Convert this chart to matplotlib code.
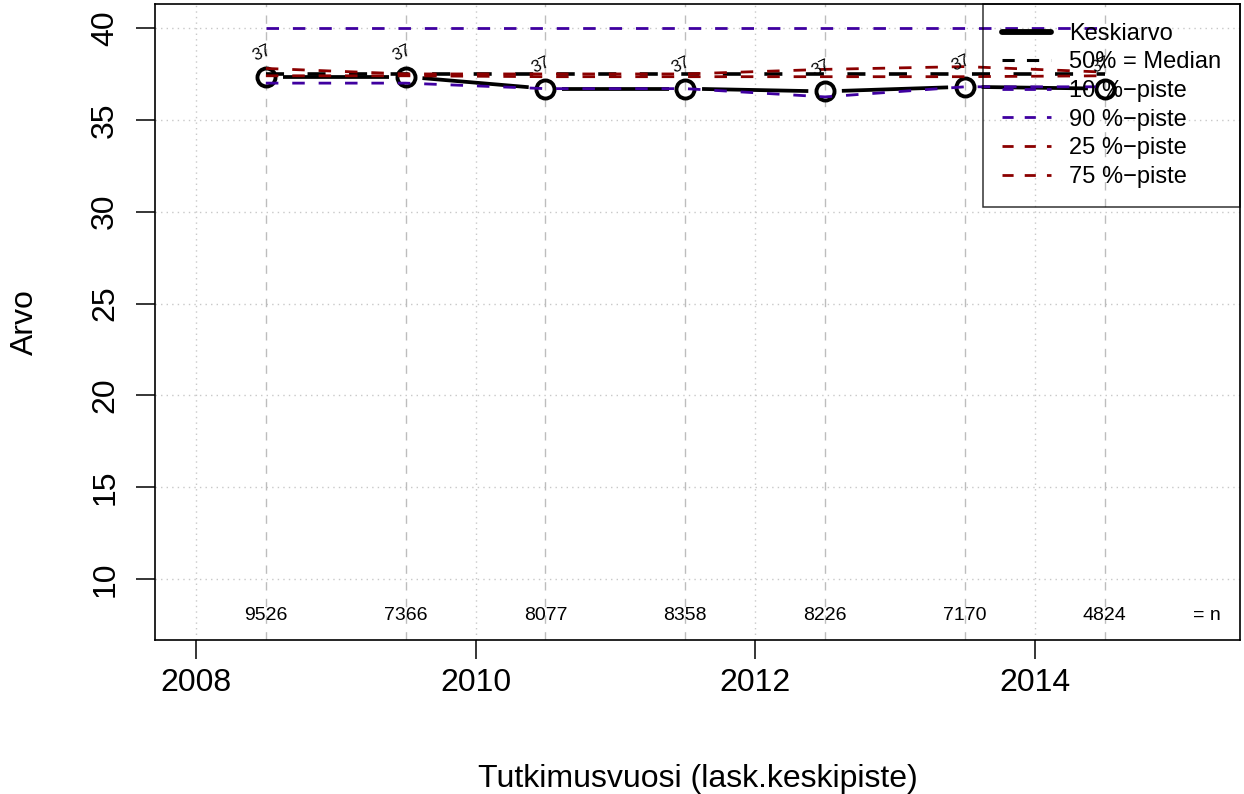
import matplotlib.pyplot as plt
from matplotlib.lines import Line2D
import numpy as np

plt.rcParams['font.family'] = ['Liberation Sans', 'DejaVu Sans']

# data
years = [2008.5, 2009.5, 2010.5, 2011.5, 2012.5, 2013.5, 2014.5]
mean_vals = [37.35, 37.35, 36.7, 36.7, 36.55, 36.8, 36.7]
median_vals = [37.5, 37.5, 37.5, 37.5, 37.5, 37.5, 37.5]
p10_vals = [37.0, 37.0, 36.7, 36.7, 36.25, 36.8, 36.8]
p90_vals = [40.0, 40.0, 40.0, 40.0, 40.0, 40.0, 40.0]
p25_vals = [37.4, 37.4, 37.35, 37.35, 37.35, 37.35, 37.4]
p75_vals = [37.8, 37.5, 37.5, 37.5, 37.75, 37.9, 37.6]
n_vals = [9526, 7366, 8077, 8358, 8226, 7170, 4824]

legend_labels = ["Keskiarvo", "50% = Median", "10 %\u2212piste", "90 %\u2212piste",
                 "25 %\u2212piste", "75 %\u2212piste"]

blue = '#3f00a0'
red = '#8b0000'

fig = plt.figure(figsize=(12.44, 7.94), dpi=100)
ax = fig.add_axes([0.1246, 0.194, 0.8722, 0.801])

ax.set_xlim(2007.707, 2015.468)
ax.set_ylim(6.68, 41.31)

# grid: dotted at ticks, dashed at measurement points
for yv in range(10, 41, 5):
    ax.axhline(yv, color='#c8c8c8', lw=1, ls=(0, (1, 3)), zorder=0)
for xv in [2008, 2010, 2012, 2014]:
    ax.axvline(xv, color='#c8c8c8', lw=1, ls=(0, (1, 3)), zorder=0)
for xv in years:
    ax.axvline(xv, color='#bdbdbd', lw=1, ls=(0, (6, 6)), zorder=0)

# mean, drawn like R type="b" (gaps around the points)
x = np.array(years)
y = np.array(mean_vals)
gap = 0.12
for i in range(len(x) - 1):
    xs = np.array([x[i] + gap, x[i + 1] - gap])
    ys = np.interp(xs, x, y)
    ax.plot(xs, ys, color='black', lw=2.7, solid_capstyle='butt', zorder=3)
ax.plot(x, y, ls='none', marker='o', ms=13, mfc='none', mec='black', mew=2.8, zorder=3)

ax.plot(years, median_vals, color='black', lw=2.6, dashes=(5, 6.5), zorder=3)
ax.plot(years, p10_vals, color=blue, lw=2.0, dashes=(4.5, 5), zorder=3)
ax.plot(years, p90_vals, color=blue, lw=2.0, dashes=(4.5, 5), zorder=3)
ax.plot(years, p25_vals, color=red, lw=2.0, dashes=(4.5, 5), zorder=3)
ax.plot(years, p75_vals, color=red, lw=2.0, dashes=(4.5, 5), zorder=3)

# value labels above the mean points
for xv, yv in zip(years, mean_vals):
    ax.text(xv - 0.03, yv + 1.3, f"{round(yv)}", fontsize=12, rotation=25,
            ha='center', va='center', zorder=4)

# n row
for xv, nv in zip(years, n_vals):
    ax.text(xv, 8.0, str(nv), fontsize=14, ha='center', va='center')
ax.text(2015.23, 8.0, "= n", fontsize=14, ha='center', va='center')

ax.set_xticks([2008, 2010, 2012, 2014])
ax.set_yticks([10, 15, 20, 25, 30, 35, 40])
ax.tick_params(axis='both', direction='out', length=14, width=1.1, labelsize=23)
ax.tick_params(axis='x', pad=6)
ax.tick_params(axis='y', pad=11)
for lab in ax.get_yticklabels():
    lab.set_rotation(90)
    lab.set_va('center')
for sp in ax.spines.values():
    sp.set_linewidth(1.2)

ax.set_xlabel("Tutkimusvuosi (lask.keskipiste)", fontsize=23, labelpad=48)
ax.set_ylabel("Arvo", fontsize=23, labelpad=36)

handles = [
    Line2D([], [], color='black', lw=4.2, solid_capstyle='round'),
    Line2D([], [], color='black', lw=2.2, dashes=(4, 4)),
    Line2D([], [], color=blue, lw=2.0, dashes=(4, 4)),
    Line2D([], [], color=blue, lw=2.0, dashes=(4, 4)),
    Line2D([], [], color=red, lw=2.0, dashes=(4, 4)),
    Line2D([], [], color=red, lw=2.0, dashes=(4, 4)),
]
leg = ax.legend(handles, legend_labels, loc='upper right', bbox_to_anchor=(1, 1),
                borderaxespad=0, fontsize=17, fancybox=False, frameon=True,
                handlelength=2.1, handletextpad=0.75, labelspacing=0.28,
                borderpad=0.8)
leg.get_frame().set_facecolor('none')
leg.get_frame().set_edgecolor('black')
leg.get_frame().set_linewidth(1.1)

fig.savefig('out.png', dpi=100)
